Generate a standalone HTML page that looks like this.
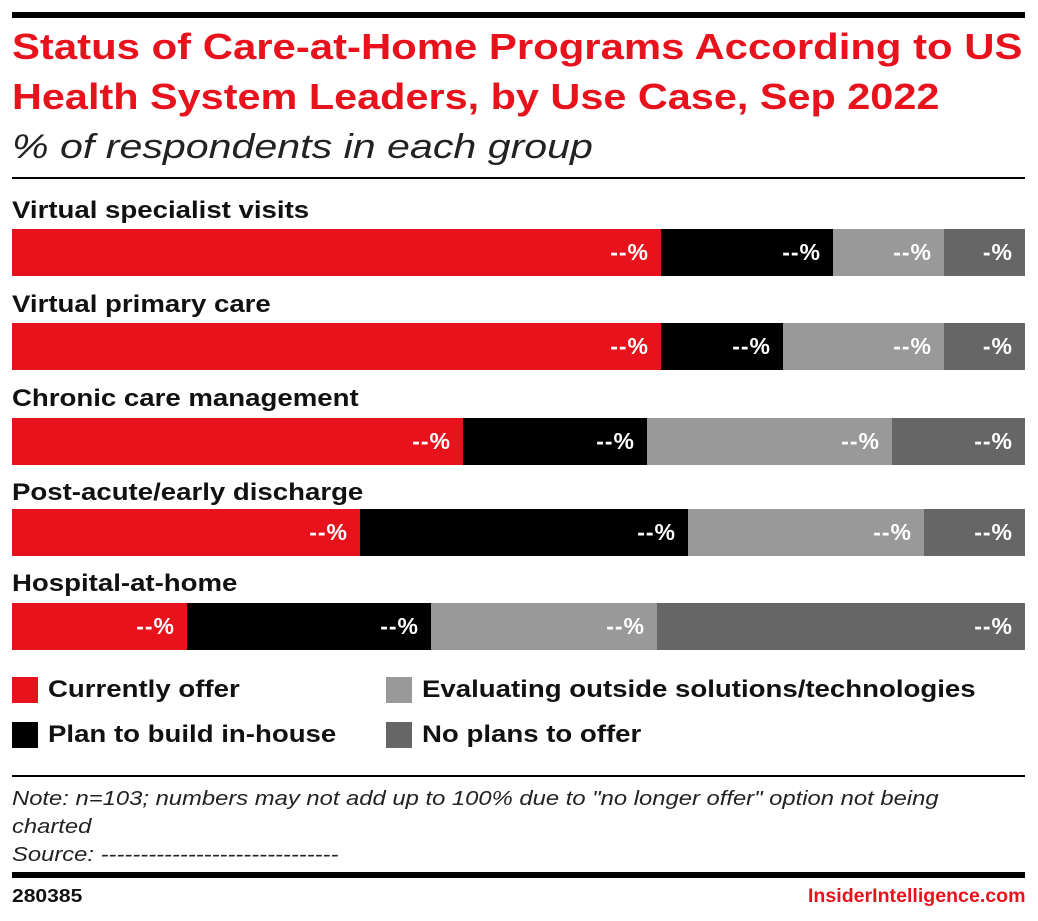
<!DOCTYPE html>
<html><head><meta charset="utf-8"><style>
body{margin:0;width:1038px;height:921px;background:#fff;font-family:"Liberation Sans",sans-serif;position:relative;overflow:hidden}
div{position:absolute;transform-origin:left top;white-space:nowrap}
.t{color:#e8121d;font-weight:bold;font-size:36px;left:12px;line-height:50px}
.lab{left:12px;font-size:24px;font-weight:bold;color:#111;line-height:28px;transform:scaleX(1.15)}
.bar{left:12px;width:1013px;height:47px;display:flex}
.bar span{display:block;height:100%;color:#fff;font-size:23px;font-weight:bold;text-align:right;box-sizing:border-box;padding-right:12px;line-height:47px;letter-spacing:1px}
.r{background:#e8121d}.k{background:#000}.g{background:#999}.d{background:#666}
.sq{width:26px;height:26px}
.lg{font-size:24px;font-weight:bold;color:#111;line-height:28px;transform:scaleX(1.15)}
.note{left:12px;font-size:20px;font-style:italic;color:#222;line-height:28px;transform:scaleX(1.19)}
</style></head><body>
<div style="left:12px;top:12px;width:1013px;height:6px;background:#000"></div>
<div class="t" style="top:22px;transform:scaleX(1.163)">Status of Care-at-Home Programs According to US</div>
<div class="t" style="top:72px;transform:scaleX(1.15)">Health System Leaders, by Use Case, Sep 2022</div>
<div style="left:12px;top:126px;font-size:34px;font-style:italic;color:#222;line-height:42px;transform:scaleX(1.21)">% of respondents in each group</div>
<div style="left:12px;top:177px;width:1013px;height:2px;background:#000"></div>

<div class="lab" style="top:197px">Virtual specialist visits</div>
<div class="bar" style="top:229px"><span class="r" style="width:649px">--%</span><span class="k" style="width:172px">--%</span><span class="g" style="width:111px">--%</span><span class="d" style="width:81px">-%</span></div>
<div class="lab" style="top:291px">Virtual primary care</div>
<div class="bar" style="top:323px"><span class="r" style="width:649px">--%</span><span class="k" style="width:122px">--%</span><span class="g" style="width:161px">--%</span><span class="d" style="width:81px">-%</span></div>
<div class="lab" style="top:385px">Chronic care management</div>
<div class="bar" style="top:418px"><span class="r" style="width:451px">--%</span><span class="k" style="width:184px">--%</span><span class="g" style="width:245px">--%</span><span class="d" style="width:133px">--%</span></div>
<div class="lab" style="top:479px">Post-acute/early discharge</div>
<div class="bar" style="top:509px"><span class="r" style="width:348px">--%</span><span class="k" style="width:328px">--%</span><span class="g" style="width:236px">--%</span><span class="d" style="width:101px">--%</span></div>
<div class="lab" style="top:570px">Hospital-at-home</div>
<div class="bar" style="top:603px"><span class="r" style="width:175px">--%</span><span class="k" style="width:244px">--%</span><span class="g" style="width:226px">--%</span><span class="d" style="width:368px">--%</span></div>

<div class="sq r" style="left:12px;top:677px"></div><div class="lg" style="left:48px;top:676px">Currently offer</div>
<div class="sq k" style="left:12px;top:722px"></div><div class="lg" style="left:48px;top:721px">Plan to build in-house</div>
<div class="sq g" style="left:386px;top:677px"></div><div class="lg" style="left:422px;top:676px">Evaluating outside solutions/technologies</div>
<div class="sq d" style="left:386px;top:722px"></div><div class="lg" style="left:422px;top:721px">No plans to offer</div>

<div style="left:12px;top:775px;width:1013px;height:2px;background:#000"></div>
<div class="note" style="top:785px">Note: n=103; numbers may not add up to 100% due to "no longer offer" option not being<br>charted<br>Source: ------------------------------</div>
<div style="left:12px;top:872px;width:1013px;height:6px;background:#000"></div>
<div style="left:12px;top:886px;font-size:18px;font-weight:bold;color:#111;transform:scaleX(1.17)">280385</div>
<div style="left:808px;top:886px;font-size:19px;font-weight:bold;color:#e8121d;transform:scaleX(1.03)">InsiderIntelligence.com</div>
</body></html>
